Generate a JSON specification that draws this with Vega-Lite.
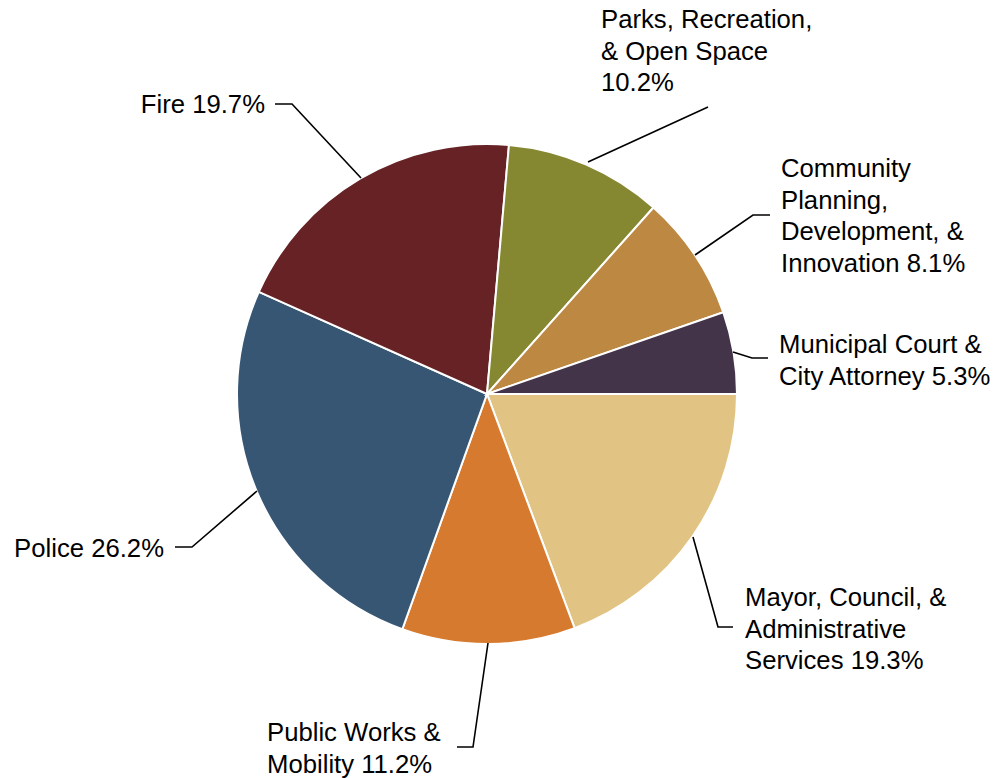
{
  "$schema": "https://vega.github.io/schema/vega-lite/v6.json",
  "width": 1008,
  "height": 778,
  "autosize": {"type": "none"},
  "padding": 0,
  "background": "white",
  "config": {"view": {"stroke": null}},
  "datasets": {
    "slices": [
      {"dept": "Mayor, Council, & Administrative Services", "pct": 19.3, "ord": 1},
      {"dept": "Public Works & Mobility", "pct": 11.2, "ord": 2},
      {"dept": "Police", "pct": 26.2, "ord": 3},
      {"dept": "Fire", "pct": 19.7, "ord": 4},
      {"dept": "Parks, Recreation, & Open Space", "pct": 10.2, "ord": 5},
      {"dept": "Community Planning, Development, & Innovation", "pct": 8.1, "ord": 6},
      {"dept": "Municipal Court & City Attorney", "pct": 5.3, "ord": 7}
    ],
    "leaders": [
      {"dept": "Municipal", "step": 1, "x": 0.984, "y": 0.168},
      {"dept": "Municipal", "step": 2, "x": 1.06, "y": 0.144},
      {"dept": "Municipal", "step": 3, "x": 1.124, "y": 0.144},
      {"dept": "Community", "step": 1, "x": 0.832, "y": 0.556},
      {"dept": "Community", "step": 2, "x": 1.064, "y": 0.716},
      {"dept": "Community", "step": 3, "x": 1.132, "y": 0.716},
      {"dept": "Parks", "step": 1, "x": 0.404, "y": 0.928},
      {"dept": "Parks", "step": 2, "x": 0.884, "y": 1.148},
      {"dept": "Fire", "step": 1, "x": -0.504, "y": 0.864},
      {"dept": "Fire", "step": 2, "x": -0.78, "y": 1.16},
      {"dept": "Fire", "step": 3, "x": -0.848, "y": 1.16},
      {"dept": "Police", "step": 1, "x": -0.92, "y": -0.388},
      {"dept": "Police", "step": 2, "x": -1.18, "y": -0.612},
      {"dept": "Police", "step": 3, "x": -1.248, "y": -0.612},
      {"dept": "Public Works", "step": 1, "x": 0.004, "y": -0.996},
      {"dept": "Public Works", "step": 2, "x": -0.056, "y": -1.412},
      {"dept": "Public Works", "step": 3, "x": -0.12, "y": -1.412},
      {"dept": "Mayor", "step": 1, "x": 0.824, "y": -0.572},
      {"dept": "Mayor", "step": 2, "x": 0.924, "y": -0.932},
      {"dept": "Mayor", "step": 3, "x": 0.984, "y": -0.932}
    ],
    "labels": [
      {"text": ["Municipal Court &", "City Attorney 5.3%"], "side": "left", "lx": 1.168, "ly": 0.196},
      {"text": ["Community", "Planning,", "Development, &", "Innovation 8.1%"], "side": "left", "lx": 1.176, "ly": 0.9},
      {"text": ["Parks, Recreation,", "& Open Space", "10.2%"], "side": "left", "lx": 0.456, "ly": 1.496},
      {"text": ["Fire 19.7%"], "side": "right", "lx": -0.888, "ly": 1.156},
      {"text": ["Police 26.2%"], "side": "right", "lx": -1.292, "ly": -0.62},
      {"text": ["Public Works &", "Mobility 11.2%"], "side": "left", "lx": -0.88, "ly": -1.356},
      {"text": ["Mayor, Council, &", "Administrative", "Services 19.3%"], "side": "left", "lx": 1.032, "ly": -0.816}
    ]
  },
  "layer": [
    {
      "data": {"name": "slices"},
      "mark": {"type": "arc", "outerRadius": 250, "stroke": "white", "strokeWidth": 2},
      "encoding": {
        "x": {"datum": 0, "type": "quantitative", "scale": {"domain": [-1.948, 2.084], "nice": false, "zero": false}, "axis": null},
        "y": {"datum": 0, "type": "quantitative", "scale": {"domain": [-1.536, 1.576], "nice": false, "zero": false}, "axis": null},
        "theta": {"field": "pct", "type": "quantitative", "stack": true, "scale": {"range": [1.5707963, 7.8539816]}},
        "order": {"field": "ord", "type": "quantitative"},
        "color": {
          "field": "dept",
          "type": "nominal",
          "legend": null,
          "scale": {
            "domain": ["Mayor, Council, & Administrative Services", "Public Works & Mobility", "Police", "Fire", "Parks, Recreation, & Open Space", "Community Planning, Development, & Innovation", "Municipal Court & City Attorney"],
            "range": ["#E1C383", "#D67A2F", "#375673", "#662225", "#858830", "#BC8842", "#43344A"]
          }
        }
      }
    },
    {
      "data": {"name": "leaders"},
      "mark": {"type": "line", "color": "black", "strokeWidth": 1.6},
      "encoding": {
        "x": {"field": "x", "type": "quantitative", "scale": {"domain": [-1.948, 2.084], "nice": false, "zero": false}, "axis": null},
        "y": {"field": "y", "type": "quantitative", "scale": {"domain": [-1.536, 1.576], "nice": false, "zero": false}, "axis": null},
        "detail": {"field": "dept"},
        "order": {"field": "step", "type": "quantitative"}
      }
    },
    {
      "data": {"name": "labels"},
      "transform": [{"filter": "datum.side === 'left'"}],
      "mark": {"type": "text", "align": "left", "baseline": "middle", "font": "Liberation Sans", "fontSize": 25.7, "lineHeight": 31.5, "color": "black"},
      "encoding": {
        "x": {"field": "lx", "type": "quantitative", "axis": null},
        "y": {"field": "ly", "type": "quantitative", "axis": null},
        "text": {"field": "text"}
      }
    },
    {
      "data": {"name": "labels"},
      "transform": [{"filter": "datum.side === 'right'"}],
      "mark": {"type": "text", "align": "right", "baseline": "middle", "font": "Liberation Sans", "fontSize": 25.7, "lineHeight": 31.5, "color": "black"},
      "encoding": {
        "x": {"field": "lx", "type": "quantitative", "axis": null},
        "y": {"field": "ly", "type": "quantitative", "axis": null},
        "text": {"field": "text"}
      }
    }
  ]
}
